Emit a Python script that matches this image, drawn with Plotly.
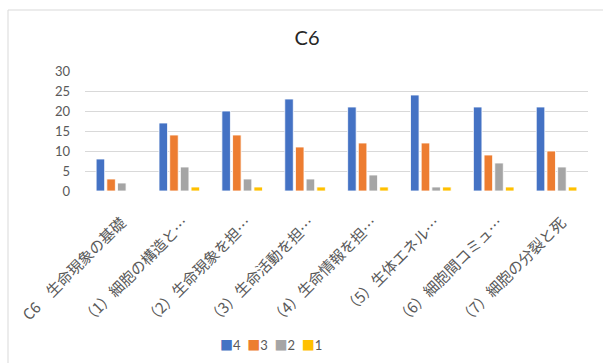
import plotly.graph_objects as go

categories = [
    "C6　生命現象の基礎",
    "（1）細胞の構造と…",
    "（2）生命現象を担…",
    "（3）生命活動を担…",
    "（4）生命情報を担…",
    "（5）生体エネル…",
    "（6）細胞間コミュ…",
    "（7）細胞の分裂と死",
]
series_names = ["4", "3", "2", "1"]
values_4 = [8, 17, 20, 23, 21, 24, 21, 21]
values_3 = [3, 14, 14, 11, 12, 12, 9, 10]
values_2 = [2, 6, 3, 3, 4, 1, 7, 6]
values_1 = [0, 1, 1, 1, 1, 1, 1, 1]
y_ticks = [0, 5, 10, 15, 20, 25, 30]

colors = ["#4472C4", "#ED7D31", "#A5A5A5", "#FFC000"]
series_values = [values_4, values_3, values_2, values_1]

W, H = 603, 363
ml, mr, mt, mb = 85, 15, 71, 153
pw, ph = W - ml - mr, H - mt - mb
y_zero_px = 191                      # pixel row of the value axis zero
y_domain_start = (H - mb - y_zero_px) / ph

font_family = "Lato, 'Noto Sans CJK JP', sans-serif"

fig = go.Figure()
for name, vals, col in zip(series_names, series_values, colors):
    fig.add_trace(go.Bar(
        x=categories, y=vals, name=name,
        marker=dict(color=col, line=dict(color="white", width=0.8)),
    ))

# outer chart frame (extends beyond the visible window at right and bottom)
fig.add_shape(
    type="rect", xref="paper", yref="paper",
    x0=(8 - ml) / pw, x1=(W + 20 - ml) / pw,
    y0=-(H + 20 - mt - ph) / ph, y1=(H - mb - 10) / ph,
    line=dict(color="#D9D9D9", width=1), fillcolor="rgba(0,0,0,0)", layer="below",
)

# compact legend row: coloured squares followed by the series names
legend_text = "&nbsp;&nbsp;".join(
    f"<span style='color:{c}'>■</span>{n}" for n, c in zip(series_names, colors)
)
fig.add_annotation(
    xref="paper", yref="paper",
    x=(271 - ml) / pw, y=-(345 - mt - ph) / ph,
    xanchor="center", yanchor="middle", showarrow=False,
    text=legend_text, font=dict(size=13, color="#595959", family=font_family),
)

fig.update_layout(
    width=W, height=H,
    margin=dict(l=ml, r=mr, t=mt, b=mb, autoexpand=False),
    paper_bgcolor="white", plot_bgcolor="white",
    barmode="group", bargap=0.32, bargroupgap=0.2,
    showlegend=False,
    title=dict(text="C6", x=307 / W, xanchor="center", y=1 - 38 / H, yanchor="middle",
               font=dict(family=font_family, size=20, color="#262626")),
    font=dict(family=font_family, color="#595959"),
    xaxis=dict(
        anchor="free", position=0,
        tickangle=-45, tickfont=dict(size=15, color="#595959",
                                     family="'Noto Sans CJK JP', sans-serif"),
        ticklabelshift=5,
        showline=False, ticks="", showgrid=False, automargin=False,
    ),
    yaxis=dict(
        domain=[y_domain_start, 1],
        range=[0, 30], tickvals=y_ticks, showgrid=True, gridcolor="#D9D9D9",
        gridwidth=1, zeroline=False, tickfont=dict(size=13, color="#595959"),
        ticks="", ticklen=0, ticklabelstandoff=14, automargin=False,
    ),
)

fig.write_html("out.html")
